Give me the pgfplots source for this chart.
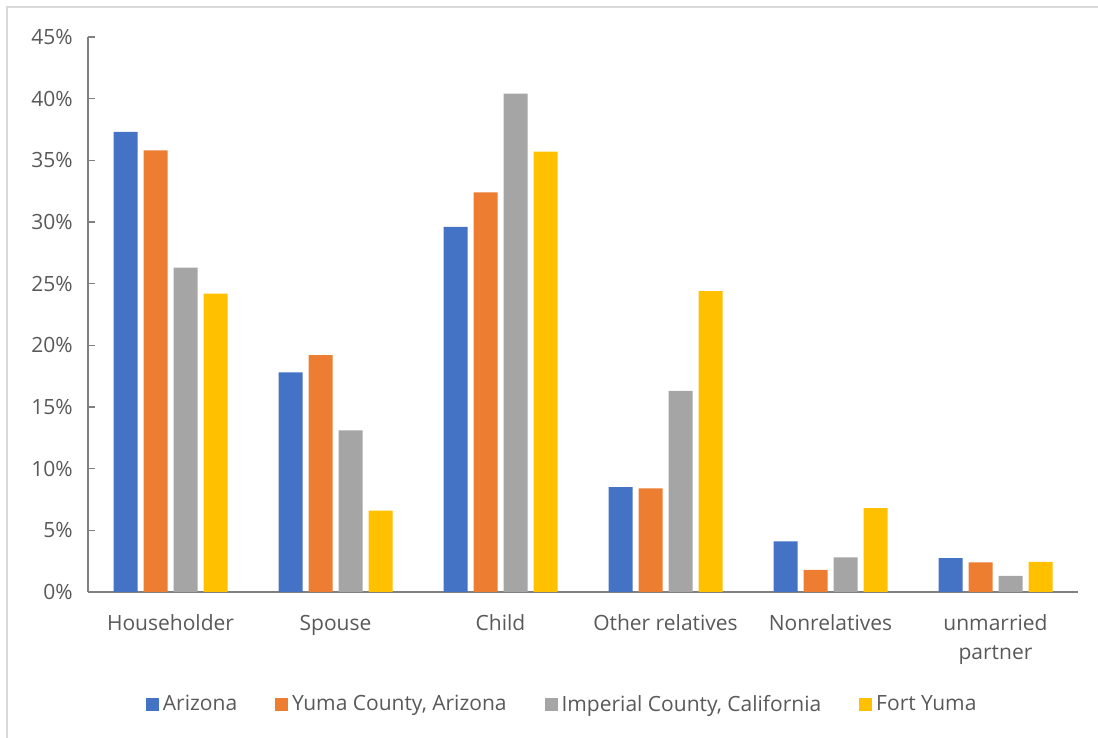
\documentclass[border=0pt]{standalone}
\usepackage{pgfplots}
\pgfplotsset{compat=1.18}
\usepackage{fontspec}
\setmainfont{Open Sans}

\definecolor{cBlue}{HTML}{4472C4}
\definecolor{cOrange}{HTML}{ED7D31}
\definecolor{cGray}{HTML}{A5A5A5}
\definecolor{cGold}{HTML}{FFC000}
\definecolor{txt}{HTML}{595959}
\definecolor{axisgray}{HTML}{808080}
\definecolor{frame}{HTML}{D9D9D9}

% Share of household members by relationship (%)
\pgfplotstableread{
x arizona yuma imperial fortyuma
0 37.3 35.8 26.3 24.2
1 17.8 19.2 13.1 6.6
2 29.6 32.4 40.4 35.7
3 8.5 8.4 16.3 24.4
4 4.1 1.8 2.8 6.8
5 2.75 2.4 1.3 2.45
}\datatable

\newcommand{\lblfont}{\fontsize{10.5}{14.8}\selectfont}

\begin{document}
\lblfont
\begin{tikzpicture}
\useasboundingbox (0,0) rectangle (549pt,369pt);
\draw[frame, line width=0.8pt] (3.5pt,0) -- (3.5pt,365.5pt) -- (549pt,365.5pt);
\begin{axis}[
  at={(44pt,73pt)}, anchor=south west,
  scale only axis,
  width=495pt, height=277.5pt,
  xmin=-0.5, xmax=5.5,
  ymin=0, ymax=45,
  axis lines*=left,
  axis line style={axisgray, line width=0.8pt},
  ybar=3pt, bar width=12pt,
  xtick={0,1,2,3,4,5},
  xticklabels={Householder, Spouse, Child, Other relatives, Nonrelatives, {unmarried\\partner}},
  typeset ticklabels with strut,
  xtick style={draw=none},
  xticklabel style={align=center, text=txt, font=\lblfont, yshift=-5pt},
  ytick={0,5,...,45},
  tick align=inside,
  ytick style={axisgray, line width=0.8pt},
  major tick length=3.5pt,
  yticklabel={\pgfmathprintnumber{\tick}\%},
  /pgf/number format/assume math mode=true,
  yticklabel style={text=txt, font=\lblfont, xshift=-4pt},
  legend columns=4,
  legend style={at={(0.48,-0.203)}, anchor=center, draw=none, fill=none,
    font=\lblfont, text=txt,
    /tikz/every even column/.append style={column sep=17pt}},
  legend image code/.code={\fill[#1] (0pt,-3.25pt) rectangle (6.5pt,3.25pt);},
  every axis plot/.append style={draw=none},
]
\addplot[fill=cBlue] table[x=x, y=arizona] {\datatable};
\addplot[fill=cOrange] table[x=x, y=yuma] {\datatable};
\addplot[fill=cGray] table[x=x, y=imperial] {\datatable};
\addplot[fill=cGold] table[x=x, y=fortyuma] {\datatable};
\legend{Arizona, {Yuma County, Arizona}, {Imperial County, California}, Fort Yuma}
\end{axis}
\end{tikzpicture}
\end{document}
